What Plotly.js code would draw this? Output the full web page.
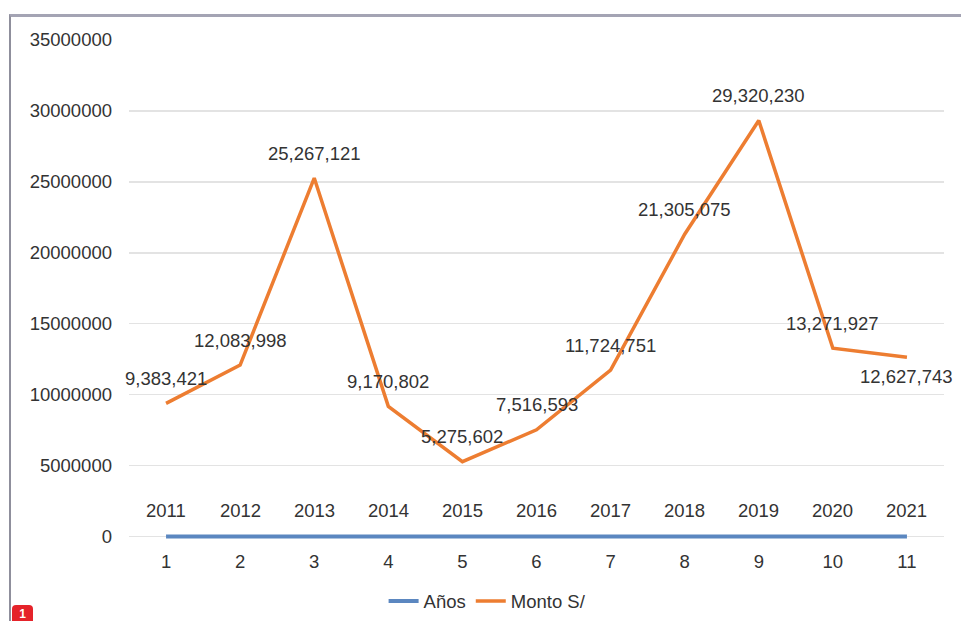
<!DOCTYPE html>
<html>
<head>
<meta charset="utf-8">
<script src="https://cdn.plot.ly/plotly-3.0.1.min.js"></script>
<style>
  html, body { margin: 0; padding: 0; background: #ffffff; }
  #wrap { position: relative; width: 961px; height: 621px; overflow: hidden; }
  #chart { position: absolute; left: 0; top: 0; width: 961px; height: 621px; }
  #frame { position: absolute; left: 9px; top: 14px; width: 960px; height: 620px;
           border-top: 3px solid #a4a4b4; border-left: 2px solid #8f8f9c; pointer-events: none; }
  #badge { position: absolute; left: 12px; top: 605px; width: 21px; height: 20px; background: #e5232a;
           border-radius: 4px; color: #fff; font: bold 12px "Liberation Sans", Arial, sans-serif;
           text-align: center; line-height: 18px; }
</style>
</head>
<body>
<div id="wrap">
  <div id="chart"></div>
  <div id="frame"></div>
  <div id="badge">1</div>
</div>
<script>
const categories = ['1','2','3','4','5','6','7','8','9','10','11'];
const years = [2011, 2012, 2013, 2014, 2015, 2016, 2017, 2018, 2019, 2020, 2021];
const montos = [9383421, 12083998, 25267121, 9170802, 5275602, 7516593, 11724751, 21305075, 29320230, 13271927, 12627743];
const yTicks = [0, 5000000, 10000000, 15000000, 20000000, 25000000, 30000000, 35000000];

const fontFam = '"Liberation Sans", Arial, sans-serif';
const textColor = '#333333';
const fs = 18.5;

const traces = [
  {
    x: categories, y: years, name: 'Años', type: 'scatter', mode: 'lines',
    line: { color: '#5b87c0', width: 4 }, hoverinfo: 'x+y'
  },
  {
    x: categories, y: montos, name: 'Monto S/', type: 'scatter', mode: 'lines',
    line: { color: '#ed7d31', width: 3.5 }, hoverinfo: 'x+y'
  }
];

const annotations = [];
years.forEach((v, i) => {
  annotations.push({
    x: i, y: v, xref: 'x', yref: 'y', text: String(v), showarrow: false,
    yshift: 26, font: { family: fontFam, size: fs, color: textColor }
  });
});
montos.forEach((v, i) => {
  annotations.push({
    x: i, y: v, xref: 'x', yref: 'y', text: v.toLocaleString('en-US'), showarrow: false,
    yshift: (i === montos.length - 1) ? -19 : 25,
    font: { family: fontFam, size: fs, color: textColor }
  });
});

const layout = {
  width: 961, height: 621,
  margin: { l: 129, r: 17, t: 40, b: 80.5, autoexpand: false },
  paper_bgcolor: 'rgba(0,0,0,0)', plot_bgcolor: '#ffffff',
  font: { family: fontFam, size: fs, color: textColor },
  showlegend: true,
  legend: { orientation: 'h', x: 0.44, xanchor: 'center', y: -0.123, yanchor: 'middle',
            font: { family: fontFam, size: fs, color: textColor }, traceorder: 'normal' },
  xaxis: {
    type: 'category', categoryorder: 'array', categoryarray: categories,
    range: [-0.5, 10.5], showgrid: false, zeroline: false, showline: false,
    ticks: '', ticklabelstandoff: 8, tickfont: { family: fontFam, size: fs, color: textColor }
  },
  yaxis: {
    range: [-250000, 35000000], tickvals: yTicks, ticktext: yTicks.map(String),
    showgrid: true, gridcolor: '#e3e3e3', gridwidth: 1.5, zeroline: false, showline: false,
    ticks: '', ticklabelstandoff: 16, tickfont: { family: fontFam, size: fs, color: textColor }
  },
  annotations: annotations
};

Plotly.newPlot('chart', traces, layout, { displayModeBar: false, staticPlot: true });
</script>
</body>
</html>
